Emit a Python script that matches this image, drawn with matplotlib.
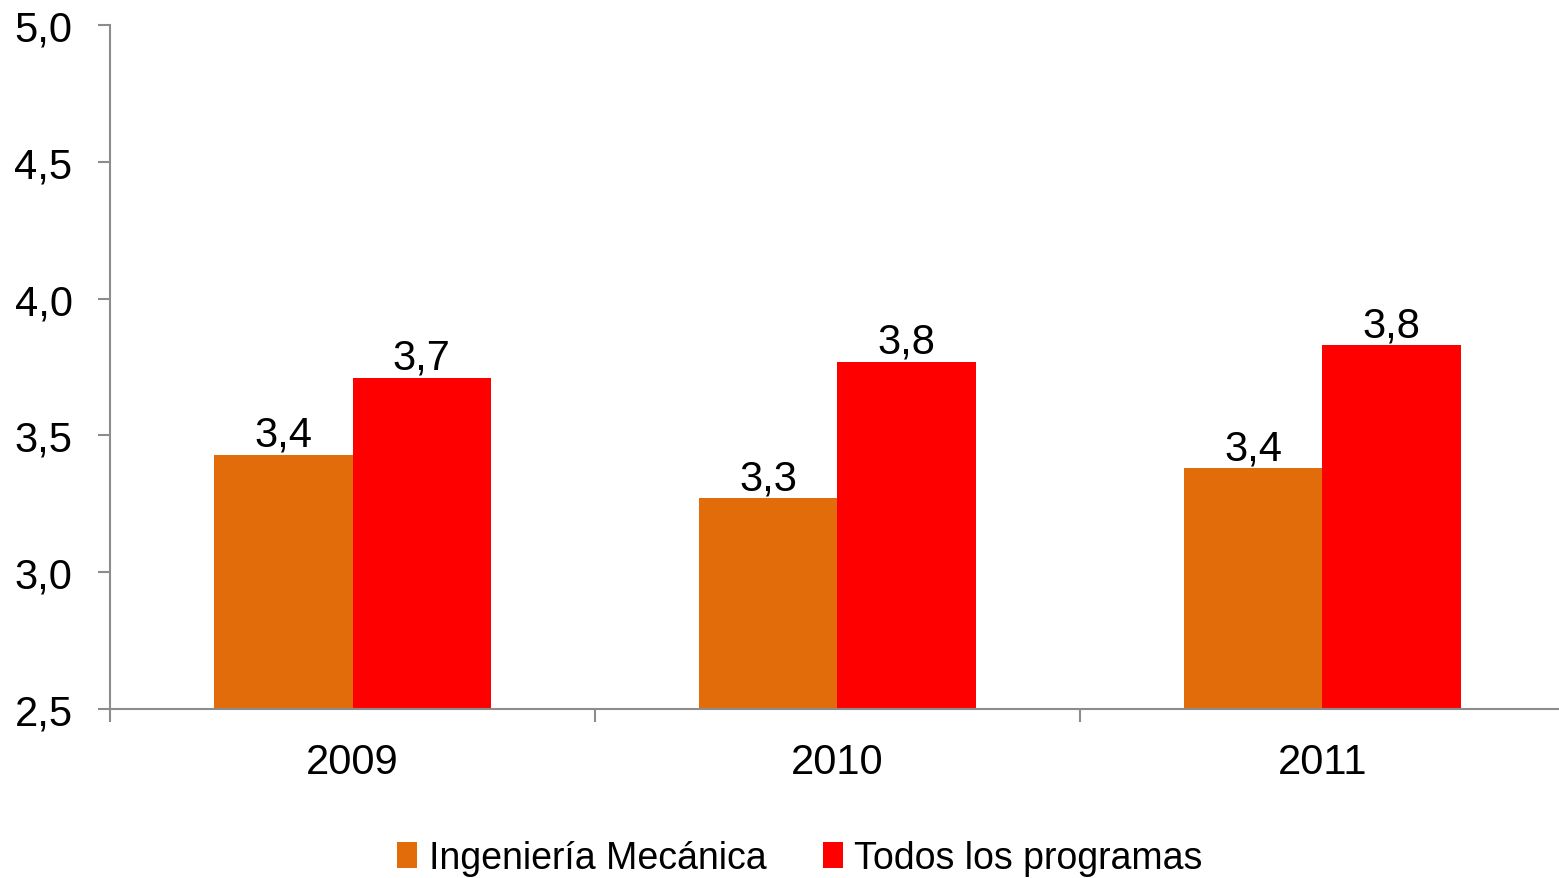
import numpy as np
import matplotlib.pyplot as plt
from matplotlib.ticker import FixedLocator, FuncFormatter

plt.rcParams['font.family'] = ['Liberation Sans', 'DejaVu Sans']

# Data
years = ["2009", "2010", "2011"]
mecanica = [3.43, 3.27, 3.38]
todos = [3.71, 3.77, 3.83]
series_names = ["Ingeniería Mecánica", "Todos los programas"]
colors = ["#E36C0A", "#FF0000"]

fig = plt.figure(figsize=(15.59, 8.79), dpi=100)
ax = fig.add_axes([0.0706, 0.1923, 0.9332, 0.7781])

x = np.arange(len(years))
w = 0.285
bars1 = ax.bar(x - w / 2, mecanica, w, color=colors[0], label=series_names[0])
bars2 = ax.bar(x + w / 2, todos, w, color=colors[1], label=series_names[1])

def fmt(v):
    return f"{v:.1f}".replace(".", ",")

for bars, vals in [(bars1, mecanica), (bars2, todos)]:
    for b, v in zip(bars, vals):
        ax.annotate(fmt(v), (b.get_x() + b.get_width() / 2, v), xytext=(0, 0),
                    textcoords="offset points", ha="center", va="bottom", fontsize=30)

ax.set_ylim(2.5, 5.0)
ax.set_xlim(-0.5, 2.5)
ax.set_yticks(np.arange(2.5, 5.01, 0.5))
ax.yaxis.set_major_formatter(FuncFormatter(lambda v, p: fmt(v)))
ax.set_xticks(x)
ax.set_xticklabels(years)
ax.xaxis.set_minor_locator(FixedLocator([-0.5, 0.5, 1.5, 2.5]))

axis_color = "#8C8C8C"
for s in ["top", "right"]:
    ax.spines[s].set_visible(False)
for s in ["left", "bottom"]:
    ax.spines[s].set_color(axis_color)
    ax.spines[s].set_linewidth(1.5)

ax.tick_params(axis="y", which="major", length=9, width=1.5, color=axis_color,
               labelsize=30, pad=18)
ax.tick_params(axis="x", which="major", length=0, labelsize=30, pad=24)
ax.tick_params(axis="x", which="minor", length=9, width=1.5, color=axis_color)

# legend sits at the very bottom edge, as in the original
fig.legend(loc="lower center", bbox_to_anchor=(0.513, -0.036), ncol=2, frameon=False,
           fontsize=27, handlelength=0.55, handleheight=0.7, handletextpad=0.3,
           columnspacing=1.5)

fig.savefig("out.png", dpi=100)
